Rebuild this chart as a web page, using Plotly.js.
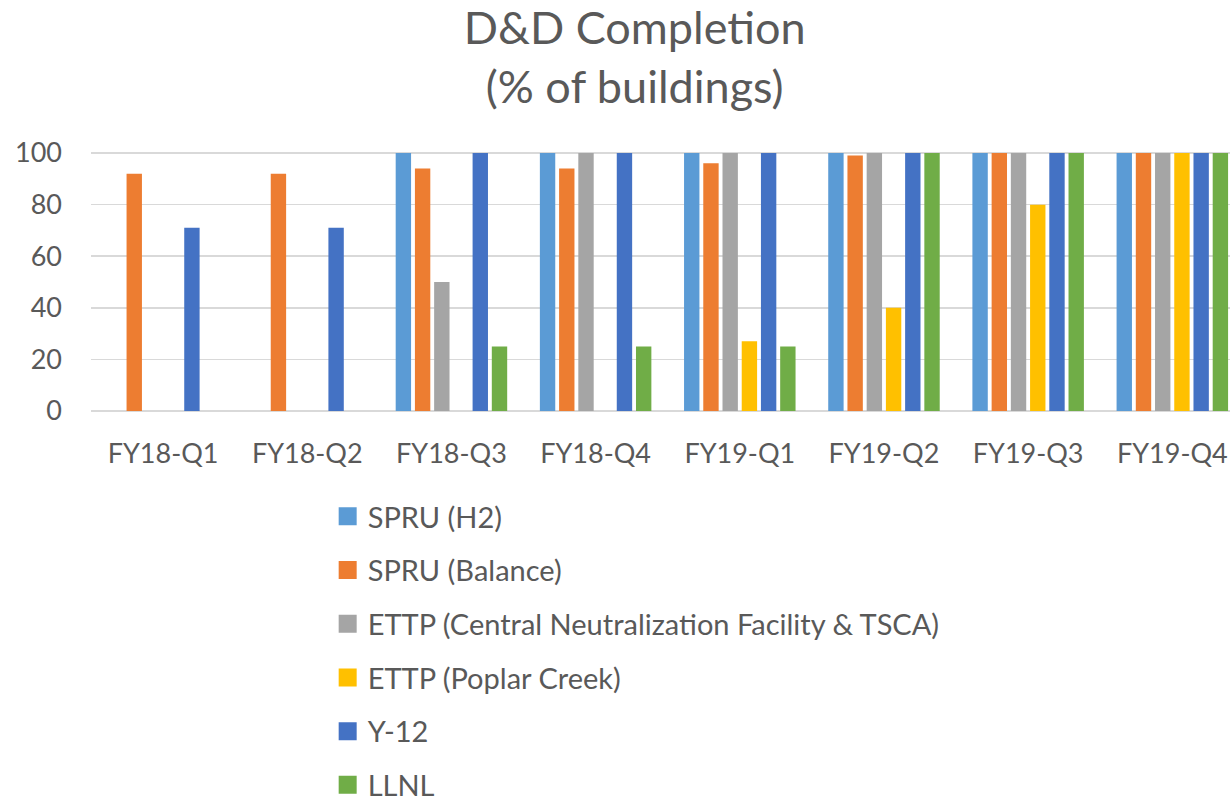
<!DOCTYPE html>
<html>
<head>
<meta charset="utf-8">
<script src="https://cdn.plot.ly/plotly-3.0.1.min.js"></script>
<style>html,body{margin:0;padding:0;background:#fff;}#chart{width:1230px;height:801px;}</style>
</head>
<body>
<div id="chart"></div>
<script>
const categories = ["FY18-Q1","FY18-Q2","FY18-Q3","FY18-Q4","FY19-Q1","FY19-Q2","FY19-Q3","FY19-Q4"];
const seriesNames = ["SPRU (H2)","SPRU (Balance)","ETTP (Central Neutralization Facility & TSCA)","ETTP (Poplar Creek)","Y-12","LLNL"];
const spruH2      = [0, 0, 100, 100, 100, 100, 100, 100];
const spruBalance = [92, 92, 94, 94, 96, 99, 100, 100];
const ettpCNF     = [0, 0, 50, 100, 100, 100, 100, 100];
const ettpPoplar  = [0, 0, 0, 0, 27, 40, 80, 100];
const y12         = [71, 71, 100, 100, 100, 100, 100, 100];
const llnl        = [0, 0, 25, 25, 25, 100, 100, 100];
const yTicks = [0, 20, 40, 60, 80, 100];
const colors = ["#5B9BD5","#ED7D31","#A5A5A5","#FFC000","#4472C4","#70AD47"];

const values = [spruH2, spruBalance, ettpCNF, ettpPoplar, y12, llnl];
const FONT = "Lato, 'Open Sans', sans-serif";
const traces = values.map((v, i) => ({
  type: "bar",
  name: seriesNames[i],
  x: categories,
  y: v,
  legendgroup: "g" + i,
  marker: {color: colors[i], line: {width: 0}},
  hoverinfo: "x+y+name"
}));

const layout = {
  width: 1230, height: 801,
  paper_bgcolor: "#fff", plot_bgcolor: "#fff",
  margin: {l: 91, r: 0, t: 152, b: 390, autoexpand: false},
  barmode: "group",
  bargap: 0.2,
  bargroupgap: 0.2,
  font: {family: FONT, color: "#595959", size: 29},
  title: {
    text: "D&D Completion<br>(% of buildings)",
    font: {family: FONT, size: 45, color: "#595959"},
    x: 0.516, xanchor: "center",
    y: 0.945, yref: "container", yanchor: "top"
  },
  xaxis: {
    type: "category",
    range: [-0.5, 7.4],
    showgrid: false, showline: false, zeroline: false,
    ticks: "",
    tickangle: 0,
    tickfont: {family: FONT, size: 27, color: "#595959"},
    ticklabelstandoff: 24,
    fixedrange: true
  },
  yaxis: {
    range: [0, 100.4],
    tickvals: yTicks,
    ticktext: yTicks.map(String),
    showgrid: true, gridcolor: "#D9D9D9", gridwidth: 1.5,
    zeroline: true, zerolinecolor: "#D9D9D9", zerolinewidth: 1.5,
    showline: false, ticks: "",
    tickfont: {family: FONT, size: 27, color: "#595959"},
    ticklabelstandoff: 28,
    fixedrange: true
  },
  showlegend: true,
  legend: {
    orientation: "v",
    traceorder: "grouped",
    tracegroupgap: 13,
    xref: "container", yref: "container",
    x: 0.2664, xanchor: "left",
    y: 1 - 491/801, yanchor: "top",
    font: {family: FONT, size: 29, color: "#595959"},
    bgcolor: "rgba(0,0,0,0)"
  }
};

Plotly.newPlot("chart", traces, layout, {displayModeBar: false, staticPlot: true}).then(() => {
  document.querySelectorAll(".legend .legendpoints path").forEach(p => {
    const t = p.getAttribute("transform") || "";
    p.setAttribute("transform", t + " scale(1.5)");
  });
});
</script>
</body>
</html>
